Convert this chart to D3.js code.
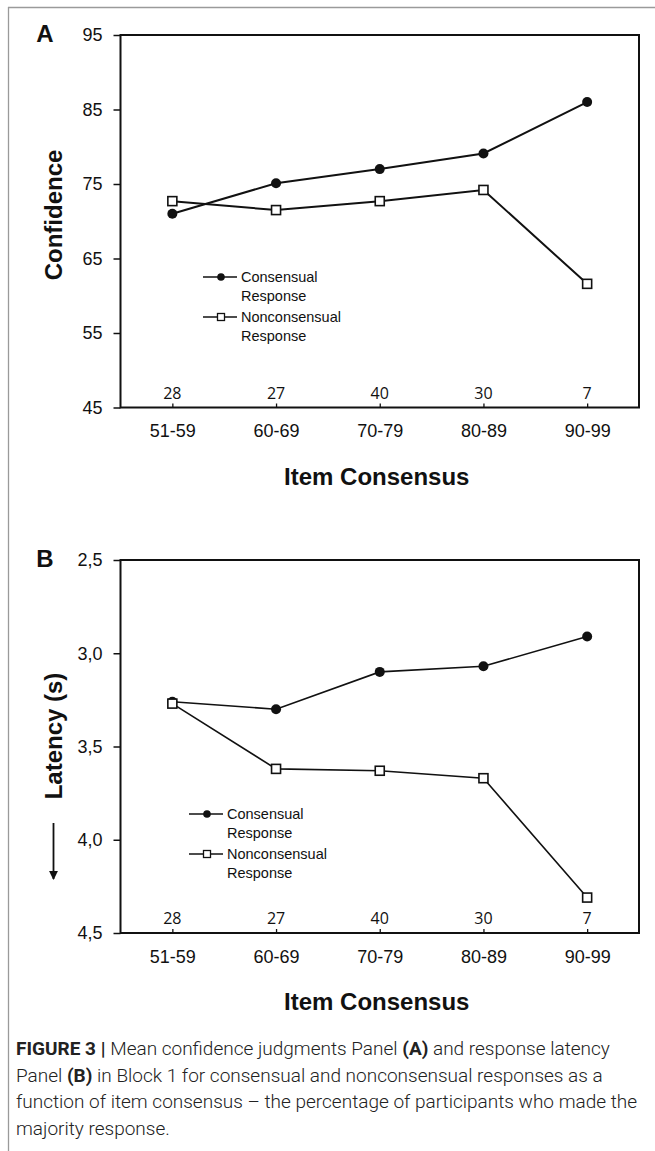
<!DOCTYPE html>
<html>
<head>
    <meta charset="utf-8">
    <style>
        body {
            margin: 0;
            background-color: #ffffff;
        }

        svg {
            display: block;
        }

        .tick-label {
            font-family: "Liberation Sans", Arial, sans-serif;
            font-size: 18px;
            fill: #111;
        }

        .axis-title {
            font-family: "Liberation Sans", Arial, sans-serif;
            font-size: 24px;
            font-weight: bold;
            fill: #111;
        }

        .count-label {
            font-family: "Open Sans", sans-serif;
            font-size: 16px;
            fill: #111;
        }

        .legend-label {
            font-family: "Liberation Sans", Arial, sans-serif;
            font-size: 14.5px;
            fill: #111;
        }

        .caption {
            font-family: "Roboto", "Liberation Sans", sans-serif;
            font-weight: 300;
            font-size: 19px;
            fill: #222;
        }
    </style>
</head>
<body>
    <div id="figure"></div>

    <script src="https://d3js.org/d3.v7.min.js"></script>
    <script>
        // categories on the x axis and number of items per bin
        var categories = ["51-59", "60-69", "70-79", "80-89", "90-99"];
        var itemCounts = [28, 27, 40, 30, 7];

        // panel A: mean confidence
        var confConsensual = [71.0, 75.1, 77.0, 79.1, 86.0];
        var confNonconsensual = [72.7, 71.5, 72.7, 74.2, 61.6];
        var confTicks = [45, 55, 65, 75, 85, 95];

        // panel B: response latency in seconds (axis reversed)
        var latConsensual = [3.26, 3.30, 3.10, 3.07, 2.91];
        var latNonconsensual = [3.27, 3.62, 3.63, 3.67, 4.31];
        var latTicks = [2.5, 3.0, 3.5, 4.0, 4.5];

        var seriesNames = ["Consensual", "Nonconsensual"];

        var W = 655, H = 1151;
        var svg = d3.select("#figure").append("svg")
            .attr("width", W)
            .attr("height", H);

        // grey frame at top and left
        svg.append("line")
            .attr("x1", 8).attr("y1", 7.5).attr("x2", W).attr("y2", 7.5)
            .attr("stroke", "#9a9a9a").attr("stroke-width", 1.3);
        svg.append("line")
            .attr("x1", 8.5).attr("y1", 7).attr("x2", 8.5).attr("y2", H)
            .attr("stroke", "#9a9a9a").attr("stroke-width", 1.3);

        var commaFmt = function (d) {
            return d3.format(".1f")(d).replace(".", ",");
        };

        function drawPanel(p) {
            var g = svg.append("g");
            var left = 120.5, right = 639;

            var x = d3.scalePoint()
                .domain(categories)
                .range([left, right])
                .padding(0.5);

            var y = d3.scaleLinear()
                .domain(p.domain)
                .range([p.top, p.bottom]);

            // y axis ticks (outside)
            var yAxis = d3.axisLeft(y)
                .tickValues(p.ticks)
                .tickSize(7)
                .tickPadding(11)
                .tickFormat(p.format);
            var ya = g.append("g")
                .attr("transform", "translate(" + left + ",0)")
                .call(yAxis);
            ya.select(".domain").remove();
            ya.selectAll("line").attr("stroke", "#111").attr("stroke-width", 1.5);
            ya.selectAll("text").attr("class", "tick-label").attr("font-size", null).attr("font-family", null);

            // x axis ticks point inward
            var xAxis = d3.axisBottom(x)
                .tickSize(-4)
                .tickPadding(17)
                .tickFormat(function (d) { return d; });
            var xa = g.append("g")
                .attr("transform", "translate(0," + p.bottom + ")")
                .call(xAxis);
            xa.select(".domain").remove();
            xa.selectAll("line").attr("stroke", "#111").attr("stroke-width", 1.3);
            xa.selectAll("text").attr("class", "tick-label").attr("font-size", null).attr("font-family", null)
                .attr("font-size", "17.5px");

            // plot frame
            g.append("rect")
                .attr("x", left).attr("y", p.top)
                .attr("width", right - left).attr("height", p.bottom - p.top)
                .attr("fill", "none")
                .attr("stroke", "#111")
                .attr("stroke-width", 2);

            // item counts above the x axis
            g.selectAll(".count-label")
                .data(itemCounts)
                .enter().append("text")
                .attr("class", "count-label")
                .attr("x", function (d, i) { return x(categories[i]); })
                .attr("y", p.bottom - 9)
                .attr("text-anchor", "middle")
                .text(function (d) { return d; });

            var line = d3.line()
                .x(function (d, i) { return x(categories[i]); })
                .y(function (d) { return y(d); });

            [p.consensual, p.nonconsensual].forEach(function (vals) {
                g.append("path")
                    .datum(vals)
                    .attr("d", line)
                    .attr("fill", "none")
                    .attr("stroke", "#111")
                    .attr("stroke-width", p.lineWidth);
            });

            g.selectAll(".dot")
                .data(p.consensual)
                .enter().append("circle")
                .attr("cx", function (d, i) { return x(categories[i]); })
                .attr("cy", function (d) { return y(d); })
                .attr("r", 5)
                .attr("fill", "#111");

            g.selectAll(".sq")
                .data(p.nonconsensual)
                .enter().append("rect")
                .attr("x", function (d, i) { return x(categories[i]) - 4.5; })
                .attr("y", function (d) { return y(d) - 4.5; })
                .attr("width", 9).attr("height", 9)
                .attr("fill", "#fff")
                .attr("stroke", "#111")
                .attr("stroke-width", 1.6);

            // legend
            var lg = g.append("g").attr("transform", "translate(" + p.legendX + "," + p.legendY + ")");
            seriesNames.forEach(function (name, i) {
                var ly = i * 40;
                lg.append("line")
                    .attr("x1", 0).attr("x2", 34)
                    .attr("y1", ly).attr("y2", ly)
                    .attr("stroke", "#111").attr("stroke-width", 1.5);
                if (i === 0) {
                    lg.append("circle").attr("cx", 18).attr("cy", ly).attr("r", 3.8).attr("fill", "#111");
                } else {
                    lg.append("rect").attr("x", 14.5).attr("y", ly - 3.5)
                        .attr("width", 7).attr("height", 7)
                        .attr("fill", "#fff").attr("stroke", "#111").attr("stroke-width", 1.3);
                }
                var t = lg.append("text").attr("class", "legend-label").attr("x", 38).attr("y", ly + 5);
                t.append("tspan").attr("x", 38).text(name);
                t.append("tspan").attr("x", 38).attr("dy", 18.5).text("Response");
            });

            // axis titles and panel letter
            g.append("text")
                .attr("class", "axis-title")
                .attr("transform", "translate(62," + p.titleY + ") rotate(-90)")
                .attr("text-anchor", "middle")
                .text(p.yTitle);

            g.append("text")
                .attr("class", "axis-title")
                .attr("x", (left + right) / 2 - 3)
                .attr("y", p.bottom + 77)
                .attr("text-anchor", "middle")
                .text("Item Consensus");

            g.append("text")
                .attr("class", "axis-title")
                .attr("font-size", "18px")
                .attr("x", 45)
                .attr("y", p.top + 7)
                .attr("text-anchor", "middle")
                .text(p.letter);

            return g;
        }

        drawPanel({
            letter: "A",
            top: 35, bottom: 407.5,
            domain: [95, 45],
            ticks: confTicks,
            format: d3.format("d"),
            consensual: confConsensual,
            nonconsensual: confNonconsensual,
            yTitle: "Confidence",
            titleY: 215,
            legendX: 203, legendY: 277,
            lineWidth: 2
        });

        drawPanel({
            letter: "B",
            top: 560, bottom: 933,
            domain: [2.5, 4.5],
            ticks: latTicks,
            format: commaFmt,
            consensual: latConsensual,
            nonconsensual: latNonconsensual,
            yTitle: "Latency (s)",
            titleY: 736,
            legendX: 189, legendY: 814,
            lineWidth: 1.6
        });

        // downward arrow next to latency title
        svg.append("defs").append("marker")
            .attr("id", "arrowhead")
            .attr("viewBox", "0 0 10 10")
            .attr("refX", 9).attr("refY", 5)
            .attr("markerWidth", 5).attr("markerHeight", 5)
            .attr("markerUnits", "strokeWidth")
            .attr("orient", "auto")
            .append("path")
            .attr("d", "M0,0 L10,5 L0,10 z")
            .attr("fill", "#111");
        svg.append("line")
            .attr("x1", 53.5).attr("y1", 823)
            .attr("x2", 53.5).attr("y2", 879)
            .attr("stroke", "#111").attr("stroke-width", 1.8)
            .attr("marker-end", "url(#arrowhead)");

        // caption
        var captionLines = [
            [["FIGURE 3 | ", true], ["Mean confidence judgments Panel ", false], ["(A)", true], [" and response latency", false]],
            [["Panel ", false], ["(B)", true], [" in Block 1 for consensual and nonconsensual responses as a", false]],
            [["function of item consensus \u2013 the percentage of participants who made the", false]],
            [["majority response.", false]]
        ];
        var cap = svg.append("g");
        captionLines.forEach(function (parts, i) {
            var t = cap.append("text")
                .attr("class", "caption")
                .attr("x", 16)
                .attr("y", 1055 + i * 26.5);
            parts.forEach(function (pt) {
                t.append("tspan")
                    .attr("font-weight", pt[1] ? 700 : null)
                    .text(pt[0]);
            });
        });
    </script>
</body>
</html>
